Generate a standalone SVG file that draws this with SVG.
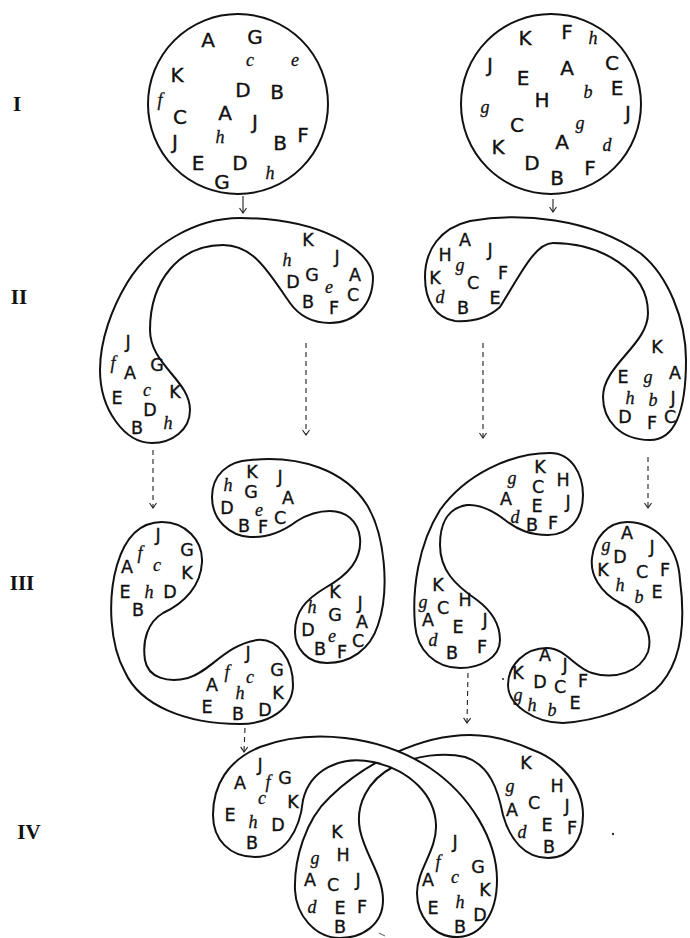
<svg xmlns="http://www.w3.org/2000/svg" width="690" height="938" viewBox="0 0 690 938">
<style>
.o{fill:#fff;stroke:#111;stroke-width:2}
.L{font-family:"DejaVu Sans","Liberation Sans",sans-serif;font-size:17.5px;text-anchor:middle;dominant-baseline:central;fill:#111;stroke:#111;stroke-width:0.35}
.s{font-family:"Liberation Serif","DejaVu Serif",serif;font-style:italic;font-size:18px;text-anchor:middle;dominant-baseline:central;fill:#111;stroke:#111;stroke-width:0.3}
.big .L{font-size:20px}
.num{font-family:"Liberation Serif","DejaVu Serif",serif;font-weight:bold;font-size:21px;text-anchor:middle;dominant-baseline:central;fill:#111}
.arr{stroke:#222;stroke-width:1.1;fill:none;marker-end:url(#ah)}
.d{stroke-dasharray:5 4}
</style>
<defs>
<marker id="ah" viewBox="-6 -5 7 10" refX="0" refY="0" markerWidth="7" markerHeight="10" markerUnits="userSpaceOnUse" orient="auto"><path d="M-5,-3.5 L0,0 L-5,3.5" fill="none" stroke="#222" stroke-width="1.1"/></marker>
</defs>
<rect width="690" height="938" fill="#fff"/>
<g id="labels">
<text class="num" x="17" y="104">I</text>
<text class="num" x="19" y="297">II</text>
<text class="num" x="22" y="583">III</text>
<text class="num" x="29" y="832">IV</text>
</g>
<g id="connectors">
<path class="arr" d="M243,196 L243,213"/>
<path class="arr" d="M553,199 L553,212"/>
<path class="arr d" d="M153,450 L153,508"/>
<path class="arr d" d="M306,343 L306,435"/>
<path class="arr d" d="M483,343 L483,438"/>
<path class="arr d" d="M648,457 L648,508"/>
<path class="arr d" d="M245,728 L244,752"/>
<path class="arr d" d="M468,673 L467,723"/>
</g>
<g id="r1-left" class="big">
<circle class="o" cx="238" cy="104" r="90"/>
<text class="L" x="208" y="40">A</text><text class="L" x="255" y="37">G</text><text class="s" x="250" y="60">c</text><text class="s" x="295" y="60">e</text>
<text class="L" x="177" y="75">K</text><text class="L" x="243" y="90">D</text><text class="L" x="277" y="92">B</text><text class="s" x="160" y="100">f</text>
<text class="L" x="180" y="117">C</text><text class="L" x="225" y="113">A</text><text class="L" x="255" y="122">J</text><text class="L" x="175" y="142">J</text>
<text class="s" x="220" y="137">h</text><text class="L" x="280" y="143">B</text><text class="L" x="303" y="135">F</text><text class="L" x="198" y="163">E</text>
<text class="L" x="240" y="163">D</text><text class="L" x="222" y="182">G</text><text class="s" x="270" y="173">h</text>
</g>
<g id="r1-right" class="big">
<circle class="o" cx="551" cy="104" r="90"/>
<text class="L" x="525" y="38">K</text><text class="L" x="567" y="32">F</text><text class="s" x="593" y="38">h</text><text class="L" x="490" y="65">J</text>
<text class="L" x="523" y="78">E</text><text class="L" x="567" y="68">A</text><text class="L" x="612" y="63">C</text><text class="s" x="485" y="107">g</text>
<text class="L" x="542" y="100">H</text><text class="s" x="588" y="92">b</text><text class="L" x="617" y="88">E</text><text class="L" x="517" y="125">C</text>
<text class="s" x="580" y="123">g</text><text class="L" x="628" y="113">J</text><text class="L" x="498" y="147">K</text><text class="L" x="562" y="142">A</text>
<text class="s" x="607" y="145">d</text><text class="L" x="532" y="163">D</text><text class="L" x="557" y="178">B</text><text class="L" x="590" y="168">F</text>
</g>
<g id="r2-left">
<path class="o" d="M373,277 C372,250 320,218 240,218 C195,218 150,245 127,283 C112,308 100,340 100,370 C100,410 125,443 152,443 C172,443 190,430 190,410 C190,380 150,365 150,330 C150,280 180,245 223,245 C255,245 270,275 290,303 C300,317 315,323 330,323 C355,323 373,305 373,277 Z"/>
<text class="L" x="308" y="240">K</text><text class="s" x="287" y="260">h</text><text class="L" x="337" y="257">J</text><text class="L" x="293" y="282">D</text>
<text class="L" x="312" y="275">G</text><text class="s" x="329" y="287">e</text><text class="L" x="355" y="275">A</text><text class="L" x="308" y="302">B</text>
<text class="L" x="334" y="308">F</text><text class="L" x="353" y="295">C</text>
<text class="L" x="128" y="342">J</text><text class="s" x="113" y="363">f</text><text class="L" x="130" y="373">A</text><text class="L" x="157" y="365">G</text>
<text class="s" x="147" y="390">c</text><text class="L" x="175" y="392">K</text><text class="L" x="117" y="398">E</text><text class="L" x="150" y="410">D</text>
<text class="L" x="137" y="428">B</text><text class="s" x="168" y="423">h</text>
</g>
<g id="r2-right">
<path class="o" d="M425,277 C425,250 440,228 470,221 C520,212 590,218 640,253 C668,275 686,320 686,360 C686,410 675,440 650,440 C620,440 603,420 603,397 C603,365 648,345 648,313 C648,270 600,243 553,243 C535,243 520,275 500,307 C488,318 472,322 455,321 C435,318 425,300 425,277 Z"/>
<text class="L" x="465" y="240">A</text><text class="L" x="445" y="255">H</text><text class="L" x="490" y="250">J</text><text class="s" x="460" y="265">g</text>
<text class="L" x="435" y="278">K</text><text class="L" x="473" y="283">C</text><text class="L" x="503" y="273">F</text><text class="s" x="440" y="297">d</text>
<text class="L" x="463" y="308">B</text><text class="L" x="495" y="298">E</text>
<text class="L" x="657" y="347">K</text><text class="L" x="623" y="377">E</text><text class="s" x="648" y="377">g</text><text class="L" x="675" y="373">A</text>
<text class="s" x="630" y="398">h</text><text class="s" x="653" y="400">b</text><text class="L" x="673" y="398">J</text><text class="L" x="625" y="417">D</text>
<text class="L" x="652" y="423">F</text><text class="L" x="670" y="417">C</text>
</g>
<g id="r3-a">
<path class="o" d="M250,460 C300,455 345,470 367,505 C385,535 390,590 378,625 C370,650 350,663 327,663 C307,663 295,648 295,632 C295,612 305,600 325,588 C348,575 362,560 360,538 C358,520 345,511 330,511 C318,511 305,516 297,521 C285,530 268,538 250,537 C230,536 212,520 212,497 C212,475 228,461 250,460 Z"/>
<text class="s" x="228" y="485">h</text><text class="L" x="252" y="472">K</text><text class="L" x="280" y="477">J</text><text class="L" x="251" y="492">G</text>
<text class="L" x="288" y="498">A</text><text class="L" x="227" y="508">D</text><text class="s" x="259" y="510">e</text><text class="L" x="280" y="518">C</text>
<text class="L" x="244" y="526">B</text><text class="L" x="263" y="527">F</text>
<text class="L" x="335" y="592">K</text><text class="s" x="312" y="607">h</text><text class="L" x="360" y="603">J</text><text class="L" x="335" y="615">G</text>
<text class="L" x="362" y="622">A</text><text class="L" x="308" y="630">D</text><text class="s" x="332" y="636">e</text><text class="L" x="358" y="641">C</text>
<text class="L" x="320" y="649">B</text><text class="L" x="342" y="652">F</text>
</g>
<g id="r3-b">
<path class="o" d="M162,522 C185,522 203,540 202,562 C201,585 185,603 163,613 C148,622 142,640 145,660 C148,678 168,683 188,678 C210,672 225,645 257,640 C278,638 293,660 293,685 C293,708 270,724 240,724 C185,724 140,705 125,672 C110,645 107,600 117,565 C125,538 140,522 162,522 Z"/>
<text class="L" x="158" y="535">J</text><text class="s" x="140" y="553">f</text><text class="L" x="187" y="550">G</text><text class="L" x="127" y="567">A</text>
<text class="s" x="157" y="565">c</text><text class="L" x="187" y="573">K</text><text class="L" x="125" y="592">E</text><text class="s" x="149" y="592">h</text>
<text class="L" x="170" y="592">D</text><text class="L" x="138" y="610">B</text>
<text class="L" x="248" y="653">J</text><text class="s" x="227" y="672">f</text><text class="s" x="250" y="677">c</text><text class="L" x="277" y="670">G</text>
<text class="L" x="212" y="685">A</text><text class="s" x="240" y="693">h</text><text class="L" x="278" y="693">K</text><text class="L" x="207" y="707">E</text>
<text class="L" x="238" y="714">B</text><text class="L" x="265" y="710">D</text>
</g>
<g id="r3-c">
<path class="o" d="M550,453 C572,453 583,475 583,495 C583,520 568,535 548,535 C530,535 518,530 505,520 C492,510 480,504 467,505 C447,508 440,525 440,545 C440,570 455,585 477,600 C493,612 500,625 500,640 C500,658 480,668 460,668 C435,668 417,650 415,625 C412,590 418,545 440,510 C465,475 510,453 550,453 Z"/>
<text class="s" x="512" y="478">g</text><text class="L" x="540" y="467">K</text><text class="L" x="563" y="480">H</text><text class="L" x="538" y="487">C</text>
<text class="L" x="506" y="499">A</text><text class="L" x="537" y="506">E</text><text class="L" x="568" y="502">J</text><text class="s" x="515" y="517">d</text>
<text class="L" x="532" y="525">B</text><text class="L" x="553" y="523">F</text>
<text class="L" x="438" y="585">K</text><text class="s" x="423" y="602">g</text><text class="L" x="443" y="608">C</text><text class="L" x="465" y="600">H</text>
<text class="L" x="428" y="620">A</text><text class="L" x="458" y="627">E</text><text class="L" x="485" y="620">J</text><text class="s" x="433" y="640">d</text>
<text class="L" x="452" y="653">B</text><text class="L" x="482" y="647">F</text>
</g>
<g id="r3-d">
<path class="o" d="M627,522 C655,522 678,545 680,580 C686,625 682,665 655,690 C635,705 605,720 563,723 C535,723 508,705 508,685 C508,665 525,648 547,648 C565,648 575,668 592,673 C615,680 640,672 648,652 C654,632 640,612 620,603 C600,592 590,575 592,558 C594,538 608,522 627,522 Z"/>
<text class="L" x="627" y="533">A</text><text class="s" x="606" y="545">g</text><text class="L" x="652" y="547">J</text><text class="L" x="620" y="557">D</text>
<text class="L" x="603" y="570">K</text><text class="L" x="642" y="572">C</text><text class="L" x="665" y="570">F</text><text class="s" x="620" y="585">h</text>
<text class="s" x="639" y="597">b</text><text class="L" x="657" y="592">E</text>
<text class="L" x="545" y="655">A</text><text class="L" x="518" y="673">K</text><text class="L" x="565" y="665">J</text><text class="L" x="583" y="681">F</text>
<text class="L" x="540" y="682">D</text><text class="L" x="560" y="687">C</text><text class="s" x="518" y="695">g</text><text class="s" x="532" y="705">h</text>
<text class="s" x="552" y="710">b</text><text class="L" x="575" y="703">E</text>
<circle cx="503" cy="679" r="1.1" fill="#333"/>
</g>
<g id="r4-right">
<path class="o" d="M533,750 C560,760 583,785 583,815 C583,840 570,858 548,858 C525,858 510,840 503,815 C498,790 490,765 465,757 C445,752 415,755 393,767 C368,780 355,805 360,830 C365,855 383,875 383,900 C383,925 362,938 340,938 C315,938 296,915 295,890 C294,860 305,820 330,797 C365,763 420,735 470,735 C495,735 515,742 533,750 Z"/>
<text class="L" x="526" y="763">K</text><text class="s" x="510" y="786">g</text><text class="L" x="557" y="786">H</text><text class="L" x="512" y="810">A</text>
<text class="L" x="534" y="803">C</text><text class="L" x="567" y="806">J</text><text class="s" x="522" y="832">d</text><text class="L" x="547" y="825">E</text>
<text class="L" x="572" y="828">F</text><text class="L" x="549" y="847">B</text>
<text class="L" x="337" y="832">K</text><text class="s" x="315" y="858">g</text><text class="L" x="343" y="855">H</text><text class="L" x="310" y="880">A</text>
<text class="L" x="333" y="885">C</text><text class="L" x="358" y="880">J</text><text class="s" x="312" y="907">d</text><text class="L" x="340" y="908">E</text>
<text class="L" x="362" y="907">F</text><text class="L" x="340" y="927">B</text>
<circle cx="613" cy="834" r="1.2" fill="#333"/>
</g>
<g id="r4-left">
<path class="o" d="M213,815 C213,785 228,760 260,747 C310,728 380,735 430,768 C470,795 497,840 497,880 C497,915 480,937 457,937 C432,937 417,915 417,893 C417,870 437,850 436,825 C435,795 410,770 373,762 C340,755 310,770 303,800 C300,830 285,857 255,857 C230,857 213,840 213,815 Z"/>
<text class="L" x="260" y="765">J</text><text class="L" x="240" y="783">A</text><text class="s" x="268" y="782">f</text><text class="L" x="285" y="778">G</text>
<text class="s" x="262" y="798">c</text><text class="L" x="293" y="802">K</text><text class="L" x="230" y="815">E</text><text class="s" x="253" y="822">h</text>
<text class="L" x="278" y="825">D</text><text class="L" x="252" y="843">B</text>
<text class="L" x="455" y="842">J</text><text class="s" x="438" y="862">f</text><text class="L" x="478" y="867">G</text><text class="L" x="428" y="880">A</text>
<text class="s" x="455" y="877">c</text><text class="L" x="485" y="890">K</text><text class="L" x="433" y="908">E</text><text class="s" x="460" y="902">h</text>
<text class="L" x="480" y="915">D</text><text class="L" x="460" y="927">B</text>
</g>
<path d="M379,933 L385,936" stroke="#555" stroke-width="1"/>
</svg>
